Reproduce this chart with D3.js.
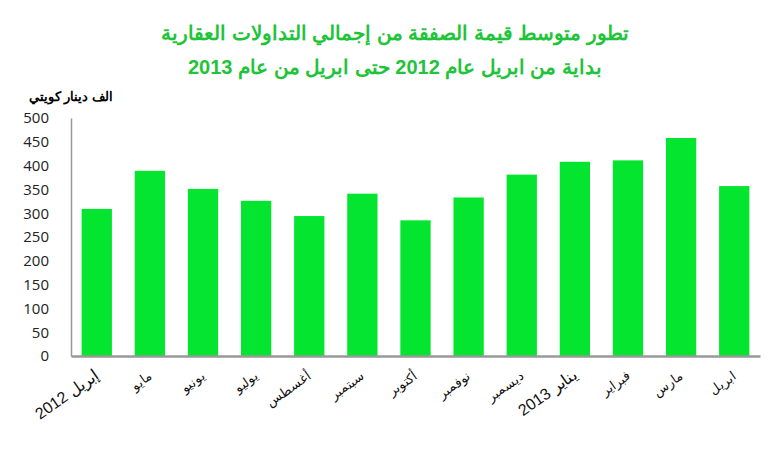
<!DOCTYPE html>
<html lang="ar">
<head>
<meta charset="UTF-8">
<script src="https://d3js.org/d3.v7.min.js"></script>
<style>
  body { margin: 0; background: #fff; }
  svg { display: block; }
</style>
</head>
<body>
<svg width="770" height="449"></svg>
<script>
  const months = ["إبريل 2012", "مايو", "يونيو", "يوليو", "أغسطس", "سبتمبر", "أكتوبر", "نوفمبر", "ديسمبر", "يناير 2013", "فبراير", "مارس", "ابريل"];
  const values = [309, 389, 351, 326, 294, 341, 285, 333, 381, 408, 411, 458, 357];
  const yTicks = [0, 50, 100, 150, 200, 250, 300, 350, 400, 450, 500];

  const svg = d3.select("svg");
  const plotLeft = 71, plotRight = 760, plotTop = 118, plotBottom = 356;

  const x = d3.scaleBand().domain(months).range([plotLeft, plotRight]).paddingInner(0.43).paddingOuter(0.2);
  const y = d3.scaleLinear().domain([0, 500]).range([plotBottom, plotTop]);

  // titles
  const title = svg.append("g").attr("fill", "#1fc43a").attr("font-family", "Liberation Sans, Arial")
    .attr("font-weight", "bold").attr("text-anchor", "middle");
  title.append("text").attr("x", 395).attr("y", 40).attr("font-size", 20)
    .text("تطور متوسط قيمة الصفقة من إجمالي التداولات العقارية");
  title.append("text").attr("x", 395).attr("y", 74).attr("font-size", 20)
    .text("بداية من ابريل عام  2012 حتى ابريل من عام 2013");

  svg.append("text").attr("x", 113).attr("y", 101).attr("font-family", "Liberation Sans, Arial")
    .attr("font-weight", "bold").attr("font-size", 13).attr("text-anchor", "end")
    .text("الف دينار كويتي");

  // bars
  svg.append("g").selectAll("rect").data(values).join("rect")
    .attr("x", (d, i) => x(months[i]))
    .attr("width", x.bandwidth())
    .attr("y", d => y(d))
    .attr("height", d => plotBottom - y(d))
    .attr("fill", "#04e52f");

  // y axis
  const ya = svg.append("g").attr("transform", `translate(${plotLeft},0)`)
    .call(d3.axisLeft(y).tickValues(yTicks).tickSize(0).tickPadding(22));
  ya.select(".domain").attr("stroke", "#999").attr("stroke-width", 1.5);
  ya.selectAll("text").attr("font-family", "Open Sans, Liberation Sans").attr("font-size", 15).attr("fill", "#222");

  // x axis
  const xa = svg.append("g").attr("transform", `translate(0,${plotBottom})`)
    .call(d3.axisBottom(x).tickSize(0).tickFormat(""));
  xa.select(".domain").attr("stroke", "#999").attr("stroke-width", 2.5);

  svg.append("g").selectAll("text").data(months).join("text")
    .attr("transform", d => `translate(${x(d) + x.bandwidth() / 2 + 3},${plotBottom + 22}) rotate(-35)`)
    .attr("text-anchor", "end")
    .attr("font-family", "Liberation Sans, Arial")
    .attr("font-size", d => /\d/.test(d) ? 16 : 13)
    .attr("fill", "#111")
    .text(d => d);
</script>
</body>
</html>
